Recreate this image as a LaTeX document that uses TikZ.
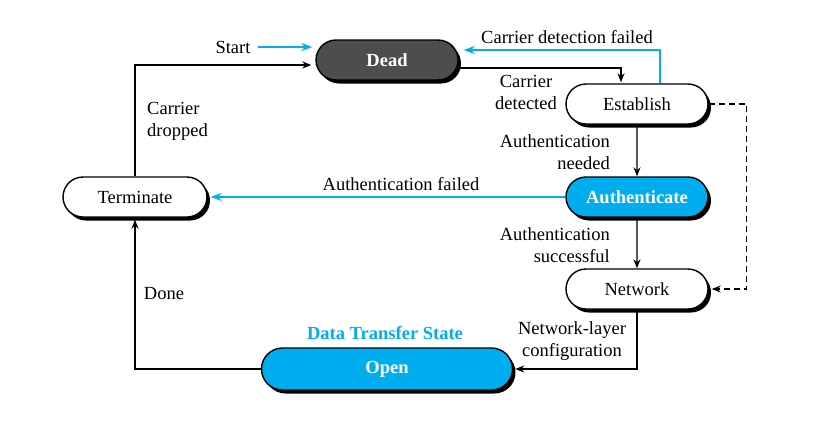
\documentclass[tikz,border=0pt]{standalone}
\usepackage{fontspec}
\setmainfont{Liberation Serif}
\usetikzlibrary{shapes.misc,shadows,arrows.meta,calc}
\definecolor{pcyan}{HTML}{00AEEF}
\definecolor{pdark}{HTML}{4D4D4D}
\begin{document}
\begin{tikzpicture}[x=1pt,y=-1pt,
  font=\fontsize{18.5}{22}\selectfont,
  state/.style={rounded rectangle, draw=black, line width=1.4pt, fill=white,
    minimum width=142pt, minimum height=40pt, inner sep=0pt,
    drop shadow={shadow xshift=3pt, shadow yshift=-3.5pt, fill=black, opacity=1}},
  boldstate/.style={state, text=white, font=\fontsize{18.5}{22}\selectfont\bfseries},
  lbl/.style={inner sep=0pt, align=center},
  barrow/.style={draw=black, line width=1.4pt, -{Stealth[length=9pt,width=7pt]}},
  carrow/.style={draw=pcyan, line width=1.8pt, -{Stealth[length=11pt,width=8pt]}}]
\useasboundingbox (0,0) rectangle (814,426);

% states
\node[boldstate, fill=pdark] (dead) at (387,60) {Dead};
\node[state] (est) at (637,104) {Establish};
\node[boldstate, fill=pcyan] (auth) at (637,197) {Authenticate};
\node[state] (net) at (637,289) {Network};
\node[state, minimum width=144pt] (term) at (135,197) {Terminate};
\node[boldstate, fill=pcyan, minimum width=251pt, minimum height=42pt] (open) at (387,369) {Open};

% labels
\node[lbl] (start) at (233,47) {Start};
\node[lbl] (cdf) at (567,37) {Carrier detection failed};
\node[lbl] (cd) at (526,92) {Carrier\\detected};
\node[lbl, align=left, anchor=west] (cdr) at (147,121) {Carrier\\dropped};
\node[lbl, align=right, anchor=east] (an) at (610,152) {Authentication\\needed};
\node[lbl] (af) at (401,184) {Authentication failed};
\node[lbl, align=right, anchor=east] (as) at (610,245) {Authentication\\successful};
\node[lbl] (done) at (164,294) {Done};
\node[lbl] (nlc) at (572,341) {Network-layer\\configuration};
\node[lbl, text=pcyan, font=\fontsize{18.5}{22}\selectfont\bfseries] (dts) at (385,333) {Data Transfer State};

% connectors
\draw[carrow] ($(start.east)+(7,0)$) -- ($(dead.west)+(-3,-13)$);
\draw[barrow] (term.north) |- ($(dead.west)+(-4,5)$);
\draw[barrow] ($(dead.east)+(0,8)$) -| ($(est.north)+(-16,-1)$);
\draw[carrow] ($(est.north)+(23,0)$) |- ($(dead.east)+(5,-10)$);
\draw[barrow] (est) -- (auth);
\draw[carrow, shorten >=3pt] (auth.west) -- (term.east);
\draw[barrow] (auth) -- (net);
\draw[barrow, dash pattern=on 6pt off 4pt, shorten >=3pt] (est.east) -- ++(38,0) |- (net.east);
\draw[barrow, shorten >=2pt] (net.south) |- (open.east);
\draw[barrow, shorten >=2pt] (open.west) -| (term.south);
\end{tikzpicture}
\end{document}
